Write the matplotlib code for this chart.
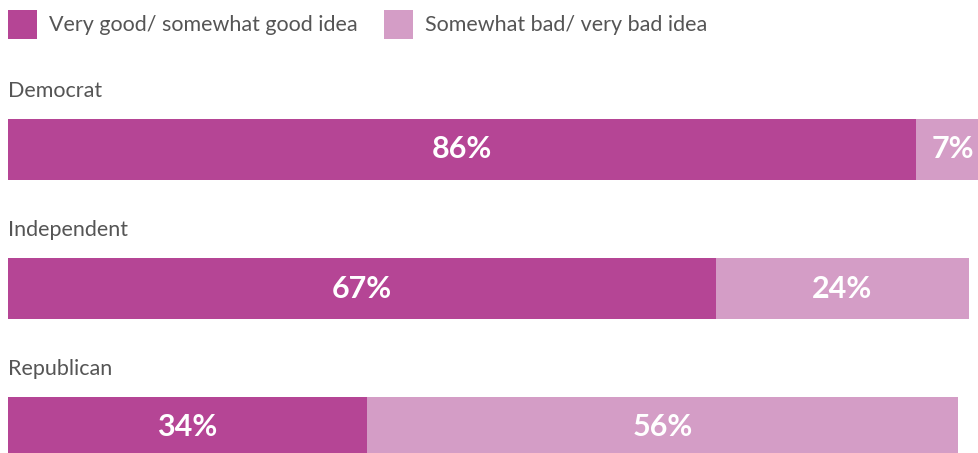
import matplotlib
matplotlib.use('Agg')
import matplotlib.pyplot as plt
from matplotlib.patches import Rectangle

# Data
parties = ["Democrat", "Independent", "Republican"]
good = [86, 67, 34]
bad = [7, 24, 56]
legend_labels = ["Very good/ somewhat good idea", "Somewhat bad/ very bad idea"]

dark = '#b54595'
light = '#d49dc6'
grey = '#555555'

plt.rcParams['font.family'] = ['Lato', 'DejaVu Sans']

W, H = 979, 453
fig = plt.figure(figsize=(W / 100, H / 100), dpi=100, facecolor='white')
ax = fig.add_axes([0, 0, 1, 1])
ax.set_axis_off()

# pixel mapping: 0% at x=8px, 10.56 px per percent; rows 139 px apart
px_per = 10.56
ax.set_xlim(-8 / px_per, (W - 8) / px_per)
row = 139.0
ax.set_ylim((H - 149.5) / row, -149.5 / row)
bar_h = 61 / row

ys = list(range(len(parties)))
ax.barh(ys, good, height=bar_h, color=dark, linewidth=0)
ax.barh(ys, bad, left=good, height=bar_h, color=light, linewidth=0)

for y, name, g, b in zip(ys, parties, good, bad):
    ax.text(0, y - bar_h / 2 - 22 / row, name, ha='left', va='baseline',
            fontsize=15.5, color=grey)
    ax.text(g / 2, y, f"{g}%", ha='center', va='center', fontsize=22,
            fontweight='bold', color='white')
    ax.text(g + b / 2, y, f"{b}%", ha='center', va='center', fontsize=22,
            fontweight='bold', color='white')

# legend
lx = [8, 384]
for x0, lab, col in zip(lx, legend_labels, [dark, light]):
    fig.patches.append(Rectangle((x0 / W, 1 - 39 / H), 29 / W, 29 / H,
                                 transform=fig.transFigure, facecolor=col,
                                 edgecolor='none'))
    fig.text((x0 + 41) / W, 1 - 25 / H, lab, ha='left', va='center',
             fontsize=15.5, color=grey)

fig.savefig('out.png', dpi=100, facecolor='white')
